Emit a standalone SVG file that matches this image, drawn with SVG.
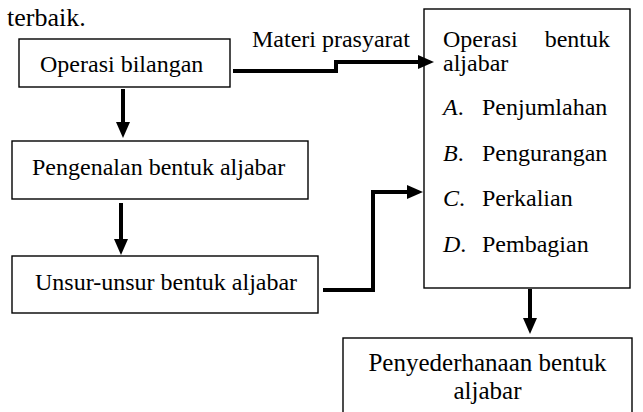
<svg xmlns="http://www.w3.org/2000/svg" width="643" height="412" viewBox="0 0 643 412">
<style>
text{font-family:'Liberation Serif','DejaVu Serif',serif;fill:#000;font-size:24px}
.box{fill:#fff;stroke:#000;stroke-width:1.4}
.con{fill:none;stroke:#000;stroke-width:4}
.it{font-style:italic}
.big{font-size:26px}
.big2{font-size:25px}
</style>
<defs>
<marker id="ah" markerUnits="userSpaceOnUse" markerWidth="16" markerHeight="14" refX="8" refY="7" orient="auto">
<path d="M0,0 L16,7 L0,14 Z" fill="#000"/>
</marker>
</defs>
<rect width="643" height="412" fill="#fff"/>
<g font-family="Liberation Serif, serif">
<text x="7" y="26" class="big">terbaik.</text>
<g id="n1"><rect class="box" x="19" y="39" width="211" height="48"/><text x="40" y="72">Operasi bilangan</text></g>
<g id="n2"><rect class="box" x="12" y="141" width="296" height="58"/><text x="32" y="175">Pengenalan bentuk aljabar</text></g>
<g id="n3"><rect class="box" x="12" y="256" width="306" height="57"/><text x="35" y="290">Unsur-unsur bentuk aljabar</text></g>
<g id="n4"><rect class="box" x="424" y="9" width="206" height="279"/>
<text x="443" y="47">Operasi</text><text x="610" y="47" text-anchor="end">bentuk</text>
<text x="443" y="71">aljabar</text>
<text x="443" y="115"><tspan class="it">A</tspan>.<tspan x="482">Penjumlahan</tspan></text>
<text x="443" y="161"><tspan class="it">B</tspan>.<tspan x="482">Pengurangan</tspan></text>
<text x="443" y="206"><tspan class="it">C</tspan>.<tspan x="482">Perkalian</tspan></text>
<text x="443" y="252"><tspan class="it">D</tspan>.<tspan x="482">Pembagian</tspan></text>
</g>
<g id="n5"><rect class="box" x="343" y="338" width="289" height="80"/>
<text x="487.5" y="371" text-anchor="middle" class="big2">Penyederhanaan bentuk</text>
<text x="487.5" y="399" text-anchor="middle" class="big2">aljabar</text></g>
<g id="connectors">
<path class="con" d="M233,71 H336 V62 H426" marker-end="url(#ah)"/>
<text x="252" y="47">Materi prasyarat</text>
<path class="con" d="M123,89 V130" marker-end="url(#ah)"/>
<path class="con" d="M121,203 V247" marker-end="url(#ah)"/>
<path class="con" d="M323,290 H373 V192 H415" marker-end="url(#ah)"/>
<path class="con" d="M530,289 V326" marker-end="url(#ah)"/>
</g>
</g>
</svg>
